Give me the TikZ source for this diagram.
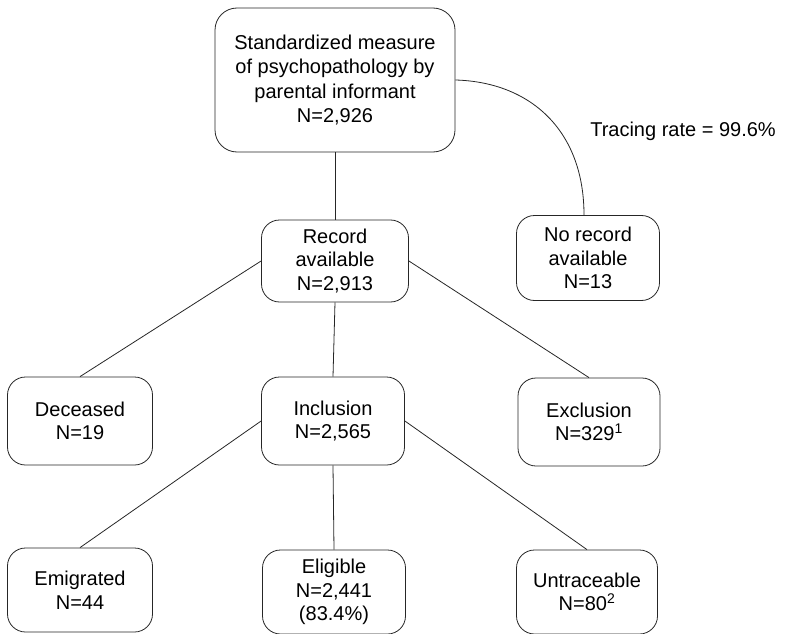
\documentclass[tikz,border=0pt]{standalone}
\usepackage{fontspec}
\setmainfont{Liberation Sans}
\begin{document}
\begin{tikzpicture}[x=1pt,y=-1pt,
  box/.style={draw=black!85, line width=0.8pt, rounded corners=18pt, align=center,
    inner sep=0pt, font=\fontsize{20}{23.5}\selectfont},
  link/.style={draw=black!85, line width=0.8pt}]
\useasboundingbox (0,0) rectangle (785,634);
\node[box, minimum width=240pt, minimum height=144pt, rounded corners=22pt,
  font=\fontsize{20}{24.5}\selectfont] (top) at (335,80)
  {Standardized measure\\of psychopathology by\\parental informant\\N=2,926};
\node[box, minimum width=147pt, minimum height=82pt] (rec) at (335,261)
  {Record\\available\\N=2,913};
\node[box, minimum width=143pt, minimum height=85pt] (norec) at (588,258)
  {No record\\available\\N=13};
\node[font=\fontsize{20}{23.5}\selectfont] (trace) at (683,131) {Tracing rate = 99.6\%};
\node[box, minimum width=145pt, minimum height=88pt] (dec) at (80,421)
  {Deceased\\N=19};
\node[box, minimum width=143pt, minimum height=88pt] (inc) at (333,421)
  {Inclusion\\N=2,565};
\node[box, minimum width=142pt, minimum height=88pt] (exc) at (589,422)
  {Exclusion\\N=329\textsuperscript{1}};
\node[box, minimum width=145pt, minimum height=84pt] (emi) at (80,590)
  {Emigrated\\N=44};
\node[box, minimum width=143pt, minimum height=84pt] (eli) at (334,592)
  {Eligible\\N=2,441\\(83.4\%)};
\node[box, minimum width=141pt, minimum height=84pt] (unt) at (587,592)
  {Untraceable\\N=80\textsuperscript{2}};
\draw[link] (top.south) -- (rec.north);
\draw[link] (top.east) .. controls (530,82) and (584,130) .. (584,215);
\draw[link] (rec.west) -- (dec.north);
\draw[link] (rec.south) -- (inc.north);
\draw[link] (rec.east) -- (exc.north);
\draw[link] (inc.west) -- (emi.north);
\draw[link] (inc.south) -- (eli.north);
\draw[link] (inc.east) -- (unt.north);
\end{tikzpicture}
\end{document}
